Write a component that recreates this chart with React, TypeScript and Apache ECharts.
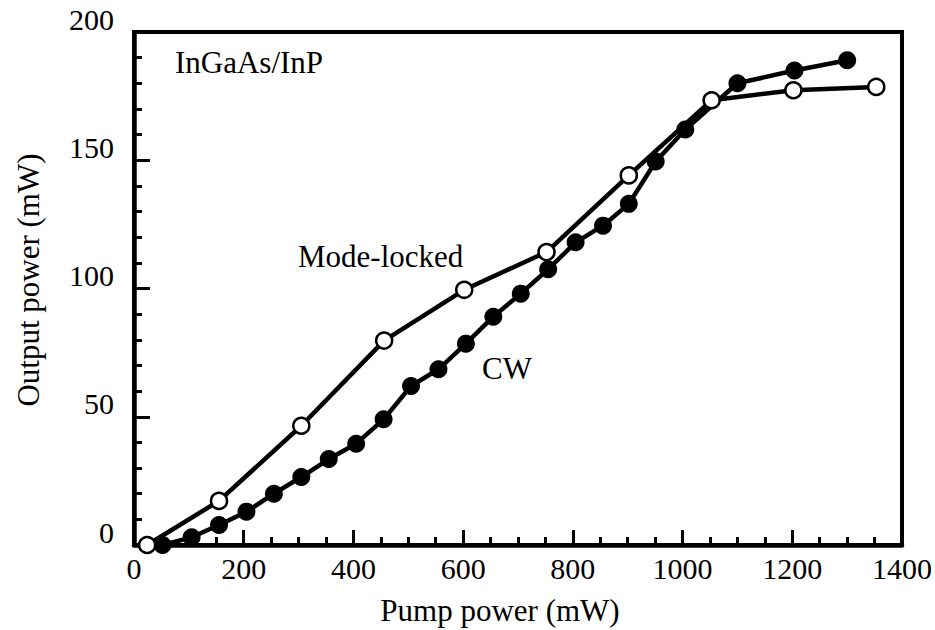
import React, { useEffect, useRef } from "react";
import * as echarts from "echarts";

// Pump power (mW) and output power (mW) for the InGaAs/InP laser
const cwPump = [52, 105, 155, 205, 255, 305, 355, 405, 455, 505, 555, 605, 655, 705, 755, 805, 855, 902, 951, 1005, 1100, 1204, 1300];
const cwOutput = [0, 3, 7.8, 13, 20, 26.5, 33.5, 39.5, 49, 62, 68.5, 78.5, 89, 98, 107.5, 118, 124.5, 133, 149.5, 162, 180, 185, 189];

const mlPump = [24, 155, 305, 456, 602, 752, 902, 1053, 1202, 1353];
const mlOutput = [0, 17.2, 46.5, 79.7, 99.5, 114.2, 144.1, 173.4, 177.3, 178.6];

const xTicks = { min: 0, max: 1400, interval: 200 };
const yTicks = { min: 0, max: 200, interval: 50 };

const FONT = "'Liberation Serif', 'Times New Roman', serif";

export default function App() {
  const ref = useRef<HTMLDivElement>(null);

  useEffect(() => {
    if (!ref.current) return;
    const chart = echarts.init(ref.current, null, { renderer: "svg" });

    const pair = (xs: number[], ys: number[]) => xs.map((x, i) => [x, ys[i]]);

    chart.setOption({
      animation: false,
      backgroundColor: "#fff",
      grid: {
        left: 134,
        right: 32,
        top: 32,
        bottom: 85,
        show: true,
        borderColor: "#000",
        borderWidth: 4,
      },
      xAxis: {
        type: "value",
        min: xTicks.min,
        max: xTicks.max,
        interval: xTicks.interval,
        axisLine: { show: true, lineStyle: { color: "#000", width: 4.5 } },
        axisTick: { show: true, inside: true, length: 15, lineStyle: { color: "#000", width: 3 } },
        minorTick: { show: true, splitNumber: 4, length: 8, lineStyle: { color: "#000", width: 3 } },
        splitLine: { show: false },
        axisLabel: {
          color: "#000",
          fontFamily: FONT,
          fontSize: 30,
          margin: 8,
          formatter: (v: number) => String(v),
        },
      },
      yAxis: {
        type: "value",
        min: yTicks.min,
        max: yTicks.max,
        interval: yTicks.interval,
        axisLine: { show: true, lineStyle: { color: "#000", width: 4.5 } },
        axisTick: { show: true, inside: true, length: 16, lineStyle: { color: "#000", width: 3 } },
        minorTick: { show: true, splitNumber: 5, length: 8, lineStyle: { color: "#000", width: 3 } },
        splitLine: { show: false },
        axisLabel: {
          color: "#000",
          fontFamily: FONT,
          fontSize: 30,
          margin: 20,
          verticalAlign: "bottom",
          lineHeight: 26,
          formatter: (v: number) => String(v),
        },
      },
      graphic: [
        {
          type: "text",
          left: 175,
          top: 47,
          style: { text: "InGaAs/InP", font: `31px ${FONT}`, fill: "#000" },
        },
        {
          type: "text",
          left: 298,
          top: 241,
          style: { text: "Mode-locked", font: `31px ${FONT}`, fill: "#000" },
        },
        {
          type: "text",
          left: 482,
          top: 353,
          style: { text: "CW", font: `31px ${FONT}`, fill: "#000" },
        },
        {
          type: "text",
          x: 500,
          y: 610,
          style: {
            text: "Pump power (mW)",
            font: `31px ${FONT}`,
            fill: "#000",
            align: "center",
            verticalAlign: "middle",
          },
        },
        {
          type: "text",
          x: 28,
          y: 280,
          rotation: Math.PI / 2,
          style: {
            text: "Output power (mW)",
            font: `31px ${FONT}`,
            fill: "#000",
            align: "center",
            verticalAlign: "middle",
          },
        },
      ],
      series: [
        {
          name: "CW",
          type: "line",
          data: pair(cwPump, cwOutput),
          clip: false,
          symbol: "circle",
          symbolSize: 18,
          lineStyle: { color: "#000", width: 4.5 },
          itemStyle: { color: "#000", borderColor: "#000", borderWidth: 0 },
          z: 3,
        },
        {
          name: "Mode-locked",
          type: "line",
          data: pair(mlPump, mlOutput),
          clip: false,
          symbol: "circle",
          symbolSize: 16,
          showAllSymbol: true,
          lineStyle: { color: "#000", width: 4.5 },
          itemStyle: { color: "#fff", borderColor: "#000", borderWidth: 2.5 },
          z: 4,
        },
      ],
    });

    return () => chart.dispose();
  }, []);

  return (
    <div
      ref={ref}
      style={{ position: "absolute", left: 0, top: 0, width: 935, height: 630 }}
    />
  );
}
